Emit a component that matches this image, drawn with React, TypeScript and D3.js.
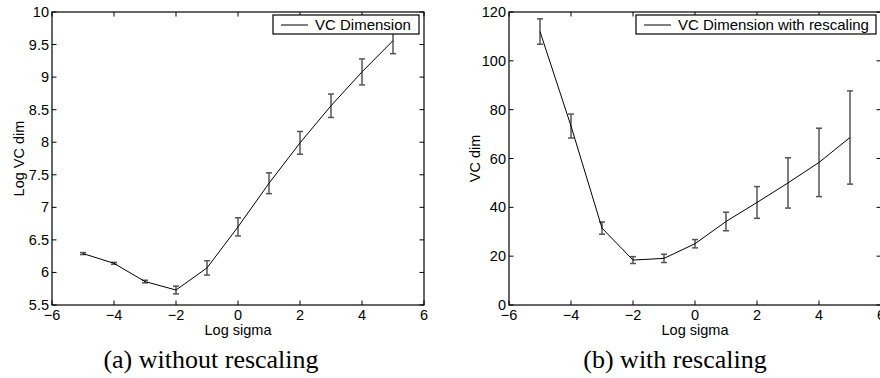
import * as d3 from "d3";
import { useEffect, useRef } from "react";

const logSigma = [-5, -4, -3, -2, -1, 0, 1, 2, 3, 4, 5];
const logVcDim = [6.29, 6.14, 5.86, 5.73, 6.07, 6.7, 7.37, 7.99, 8.56, 9.08, 9.56];
const logVcDimErr = [0.015, 0.015, 0.02, 0.06, 0.11, 0.14, 0.16, 0.175, 0.18, 0.2, 0.2];
const vcDimRescaled = [112, 73.3, 31.5, 18.4, 19.1, 25.1, 34.2, 42, 50, 58.4, 68.6];
const vcDimRescaledErr = [5.2, 4.9, 2.5, 1.4, 1.7, 1.7, 3.8, 6.5, 10.3, 14, 19.1];
const xTicks = [-6, -4, -2, 0, 2, 4, 6];
const leftYTicks = [5.5, 6, 6.5, 7, 7.5, 8, 8.5, 9, 9.5, 10];
const rightYTicks = [0, 20, 40, 60, 80, 100, 120];

const SANS = "'Liberation Sans', Arial, sans-serif";
const SERIF = "'Liberation Serif', 'Times New Roman', serif";

type Panel = {
  left: number;
  right: number;
  top: number;
  bottom: number;
  yDomain: [number, number];
  yTicks: number[];
  values: number[];
  errs: number[];
  yLabel: string;
  yLabelX: number;
  legend: string;
  legendX: number;
  legendW: number;
  caption: string;
  captionX: number;
};

const drawPanel = (svg: d3.Selection<SVGSVGElement, unknown, null, undefined>, p: Panel) => {
  const x = d3.scaleLinear().domain([-6, 6]).range([p.left, p.right]);
  const y = d3.scaleLinear().domain(p.yDomain).range([p.bottom, p.top]);
  const g = svg.append("g");
  const fmt = (v: number) => d3.format("")(v).replace("-", "\u2212");

  // frame
  g.append("rect")
    .attr("x", p.left)
    .attr("y", p.top)
    .attr("width", p.right - p.left)
    .attr("height", p.bottom - p.top)
    .attr("fill", "none")
    .attr("stroke", "#000")
    .attr("stroke-width", 1.2);

  // ticks (inward, all four sides)
  const tl = 4.5;
  xTicks.forEach((t) => {
    g.append("line").attr("x1", x(t)).attr("x2", x(t)).attr("y1", p.bottom).attr("y2", p.bottom - tl).attr("stroke", "#000");
    g.append("line").attr("x1", x(t)).attr("x2", x(t)).attr("y1", p.top).attr("y2", p.top + tl).attr("stroke", "#000");
    g.append("text")
      .attr("x", x(t))
      .attr("y", p.bottom + 15)
      .attr("text-anchor", "middle")
      .style("font-family", SANS)
      .style("font-size", "14.5px")
      .text(fmt(t));
  });
  p.yTicks.forEach((t) => {
    g.append("line").attr("x1", p.left).attr("x2", p.left + tl).attr("y1", y(t)).attr("y2", y(t)).attr("stroke", "#000");
    g.append("line").attr("x1", p.right).attr("x2", p.right - tl).attr("y1", y(t)).attr("y2", y(t)).attr("stroke", "#000");
    g.append("text")
      .attr("x", p.left - 3)
      .attr("y", y(t) + 5)
      .attr("text-anchor", "end")
      .style("font-family", SANS)
      .style("font-size", "14.5px")
      .text(fmt(t));
  });

  // error bars
  const cap = 3;
  logSigma.forEach((s, i) => {
    const lo = y(p.values[i] - p.errs[i]);
    const hi = y(p.values[i] + p.errs[i]);
    const cx = x(s);
    const eb = g.append("g").attr("stroke", "#555").attr("stroke-width", 1.5);
    eb.append("line").attr("x1", cx).attr("x2", cx).attr("y1", lo).attr("y2", hi);
    eb.append("line").attr("x1", cx - cap).attr("x2", cx + cap).attr("y1", lo).attr("y2", lo);
    eb.append("line").attr("x1", cx - cap).attr("x2", cx + cap).attr("y1", hi).attr("y2", hi);
  });

  // line
  const line = d3
    .line<number>()
    .x((_, i) => x(logSigma[i]))
    .y((d) => y(d));
  g.append("path")
    .attr("d", line(p.values))
    .attr("fill", "none")
    .attr("stroke", "#000")
    .attr("stroke-width", 1);

  // axis labels
  g.append("text")
    .attr("x", x(0))
    .attr("y", p.bottom + 30)
    .attr("text-anchor", "middle")
    .style("font-family", SANS)
    .style("font-size", "14.5px")
    .text("Log sigma");
  g.append("text")
    .attr("transform", `translate(${p.yLabelX},${(p.top + p.bottom) / 2}) rotate(-90)`)
    .attr("text-anchor", "middle")
    .style("font-family", SANS)
    .style("font-size", "14.5px")
    .text(p.yLabel);

  // legend
  const lg = g.append("g");
  lg.append("rect")
    .attr("x", p.legendX)
    .attr("y", 15)
    .attr("width", p.legendW)
    .attr("height", 19)
    .attr("fill", "#fff")
    .attr("stroke", "#000")
    .attr("stroke-width", 1.2);
  lg.append("line")
    .attr("x1", p.legendX + 8)
    .attr("x2", p.legendX + 35)
    .attr("y1", 25)
    .attr("y2", 25)
    .attr("stroke", "#000");
  lg.append("text")
    .attr("x", p.legendX + 42)
    .attr("y", 30)
    .style("font-family", SANS)
    .style("font-size", "15px")
    .text(p.legend);

  // caption
  g.append("text")
    .attr("x", p.captionX)
    .attr("y", 368)
    .attr("text-anchor", "middle")
    .style("font-family", SERIF)
    .style("font-size", "26px")
    .text(p.caption);
};

export default function App() {
  const ref = useRef<SVGSVGElement | null>(null);

  useEffect(() => {
    if (!ref.current) return;
    const svg = d3.select(ref.current);
    svg.selectAll("*").remove();

    drawPanel(svg, {
      left: 52,
      right: 424,
      top: 12,
      bottom: 305,
      yDomain: [5.5, 10],
      yTicks: leftYTicks,
      values: logVcDim,
      errs: logVcDimErr,
      yLabel: "Log VC dim",
      yLabelX: 24,
      legend: "VC Dimension",
      legendX: 273,
      legendW: 146,
      caption: "(a) without rescaling",
      captionX: 211,
    });

    drawPanel(svg, {
      left: 509,
      right: 881,
      top: 12,
      bottom: 305,
      yDomain: [0, 120],
      yTicks: rightYTicks,
      values: vcDimRescaled,
      errs: vcDimRescaledErr,
      yLabel: "VC dim",
      yLabelX: 480,
      legend: "VC Dimension with rescaling",
      legendX: 636,
      legendW: 240,
      caption: "(b) with rescaling",
      captionX: 675,
    });
  }, []);

  return (
    <svg
      ref={ref}
      width={880}
      height={378}
      style={{ position: "absolute", left: 0, top: 0, background: "#fff" }}
    />
  );
}
